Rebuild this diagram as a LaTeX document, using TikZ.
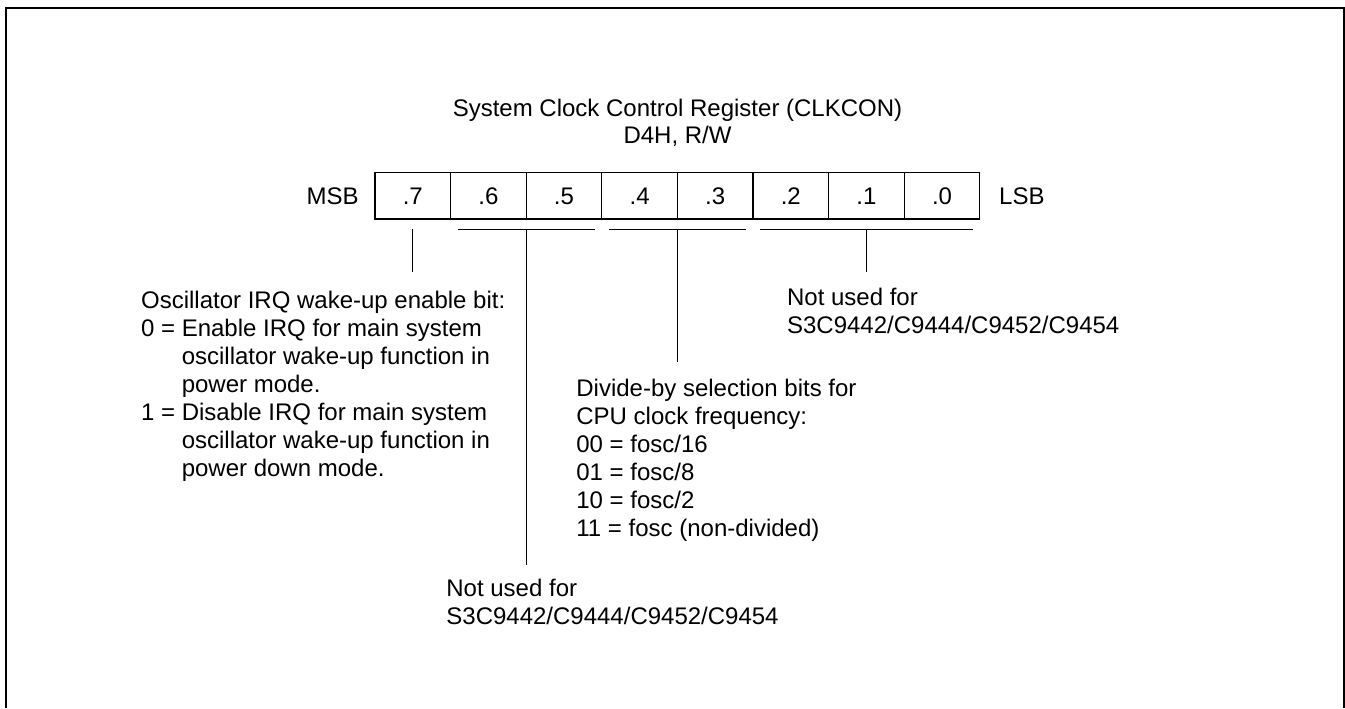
\documentclass[tikz,border=0pt]{standalone}
\usepackage{fontspec}
\setmainfont{Liberation Sans}
\usetikzlibrary{positioning, calc}

\begin{document}
\begin{tikzpicture}[
	x=0.5pt, y=-0.5pt,
	font=\fontsize{12}{14}\selectfont,
	celda/.style={rectangle, draw=black, line width=0.65pt, minimum width=37.8pt,
	              minimum height=23.2pt, inner sep=0pt, outer sep=0pt},
	etiqueta/.style={inner sep=0pt},
	texto/.style={align=left, inner sep=0pt, anchor=north west},
	linea/.style={draw=black, line width=0.5pt},
	marco/.style={draw=black, line width=1pt},
	]

\useasboundingbox (0,0) rectangle (1345,708);

% Marco exterior, abierto por abajo
\draw[marco] (6,708) -- (6,7.7) -- (1344,7.7) -- (1344,708);

% Titulo del registro
\node[align=center, inner sep=0pt, anchor=north, font=\fontsize{12}{13.2}\selectfont] (titulo) at (677.5,99.2)
	{System Clock Control Register (CLKCON)\\D4H, R/W};

% Campos del registro
\node[celda] (b7) at (412.8,195.9) {.7};
\node[celda, right=0pt of b7] (b6) {.6};
\node[celda, right=0pt of b6] (b5) {.5};
\node[celda, right=0pt of b5] (b4) {.4};
\node[celda, right=0pt of b4] (b3) {.3};
\node[celda, right=0pt of b3] (b2) {.2};
\node[celda, right=0pt of b2] (b1) {.1};
\node[celda, right=0pt of b1] (b0) {.0};

\node[etiqueta, left=8pt of b7] (msb) {MSB};
\node[etiqueta, right=9.5pt of b0] (lsb) {LSB};

% Corchetes y lineas de llamada
\coordinate (c7) at ($(b7.south)+(0,10.3)$);
\coordinate (f7) at ($(b7.south)+(0,52.7)$);
\coordinate (c65i) at ($(b6.south west)+(7,10.3)$);
\coordinate (c65d) at ($(b5.south east)+(-7,10.3)$);
\coordinate (c65) at ($(b6.south east)+(0,10.3)$);
\coordinate (f65) at ($(b6.south east)+(0,346)$);
\coordinate (c43i) at ($(b4.south west)+(7,10.3)$);
\coordinate (c43d) at ($(b3.south east)+(-7,10.3)$);
\coordinate (c43) at ($(b4.south east)+(0,10.3)$);
\coordinate (f43) at ($(b4.south east)+(0,143)$);
\coordinate (c20i) at ($(b2.south west)+(7,10.3)$);
\coordinate (c20d) at ($(b0.south east)+(-7,10.3)$);
\coordinate (c20) at ($(b1.south)+(0,10.3)$);
\coordinate (f20) at ($(b1.south)+(0,52.7)$);

\draw[linea] (c7) -- (f7);
\draw[linea] (c65i) -- (c65d);
\draw[linea] (c65) -- (f65);
\draw[linea] (c43i) -- (c43d);
\draw[linea] (c43) -- (f43);
\draw[linea] (c20i) -- (c20d);
\draw[linea] (c20) -- (f20);

% Descripciones de los campos
\node[texto] (osc) at (140.7,290.5) {Oscillator IRQ wake-up enable bit:\\
	0 = Enable IRQ for main system\\
	\hphantom{0 = }oscillator wake-up function in\\
	\hphantom{0 = }power mode.\\
	1 = Disable IRQ for main system\\
	\hphantom{1 = }oscillator wake-up function in\\
	\hphantom{1 = }power down mode.};

\node[texto] (divisor) at (576,378.5) {Divide-by selection bits for\\
	CPU clock frequency:\\
	00 = fosc/16\\
	01 = fosc/8\\
	10 = fosc/2\\
	11 = fosc (non-divided)};

\node[texto] (nousoA) at (786.7,287.5) {Not used for\\S3C9442/C9444/C9452/C9454};
\node[texto] (nousoB) at (446,578.5) {Not used for\\S3C9442/C9444/C9452/C9454};

\end{tikzpicture}
\end{document}
